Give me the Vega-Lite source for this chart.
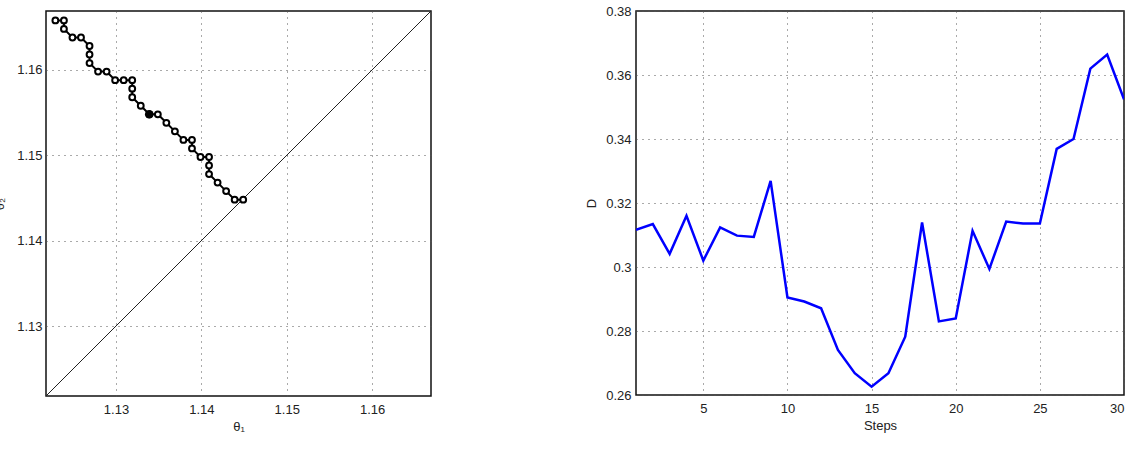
{
  "$schema": "https://vega.github.io/schema/vega-lite/v6.json",
  "padding": {"left": -8, "top": 4, "right": 0, "bottom": 0},
  "background": "white",
  "bounds": "flush",
  "spacing": 205,
  "datasets": {
    "path": [
      {"i": 1, "t1": 1.1229, "t2": 1.1658},
      {"i": 2, "t1": 1.1239, "t2": 1.1658},
      {"i": 3, "t1": 1.1239, "t2": 1.1648},
      {"i": 4, "t1": 1.1249, "t2": 1.1638},
      {"i": 5, "t1": 1.1259, "t2": 1.1638},
      {"i": 6, "t1": 1.1269, "t2": 1.1628},
      {"i": 7, "t1": 1.1269, "t2": 1.1618},
      {"i": 8, "t1": 1.1269, "t2": 1.1608},
      {"i": 9, "t1": 1.1279, "t2": 1.1598},
      {"i": 10, "t1": 1.1289, "t2": 1.1598},
      {"i": 11, "t1": 1.1299, "t2": 1.1588},
      {"i": 12, "t1": 1.1309, "t2": 1.1588},
      {"i": 13, "t1": 1.1319, "t2": 1.1588},
      {"i": 14, "t1": 1.1319, "t2": 1.1578},
      {"i": 15, "t1": 1.1319, "t2": 1.1568},
      {"i": 16, "t1": 1.1329, "t2": 1.1558},
      {"i": 17, "t1": 1.1339, "t2": 1.1548},
      {"i": 18, "t1": 1.1349, "t2": 1.1548},
      {"i": 19, "t1": 1.1359, "t2": 1.1538},
      {"i": 20, "t1": 1.1369, "t2": 1.1528},
      {"i": 21, "t1": 1.1379, "t2": 1.1518},
      {"i": 22, "t1": 1.1389, "t2": 1.1518},
      {"i": 23, "t1": 1.1389, "t2": 1.1508},
      {"i": 24, "t1": 1.1399, "t2": 1.1498},
      {"i": 25, "t1": 1.1409, "t2": 1.1498},
      {"i": 26, "t1": 1.1409, "t2": 1.1488},
      {"i": 27, "t1": 1.1409, "t2": 1.1478},
      {"i": 28, "t1": 1.1419, "t2": 1.1468},
      {"i": 29, "t1": 1.1429, "t2": 1.1458},
      {"i": 30, "t1": 1.1439, "t2": 1.1448},
      {"i": 31, "t1": 1.1449, "t2": 1.1448}
    ],
    "current": [{"t1": 1.1339, "t2": 1.1548}],
    "diag": [
      {"t1": 1.1218, "t2": 1.1218},
      {"t1": 1.1669, "t2": 1.1669}
    ],
    "steps": [
      {"step": 1, "D": 0.3116},
      {"step": 2, "D": 0.3134},
      {"step": 3, "D": 0.3041},
      {"step": 4, "D": 0.316},
      {"step": 5, "D": 0.302},
      {"step": 6, "D": 0.3124},
      {"step": 7, "D": 0.3098},
      {"step": 8, "D": 0.3094},
      {"step": 9, "D": 0.3269},
      {"step": 10, "D": 0.2905},
      {"step": 11, "D": 0.2892},
      {"step": 12, "D": 0.2871},
      {"step": 13, "D": 0.2741},
      {"step": 14, "D": 0.2668},
      {"step": 15, "D": 0.2626},
      {"step": 16, "D": 0.2668},
      {"step": 17, "D": 0.2782},
      {"step": 18, "D": 0.3139},
      {"step": 19, "D": 0.283},
      {"step": 20, "D": 0.2839},
      {"step": 21, "D": 0.3113},
      {"step": 22, "D": 0.2994},
      {"step": 23, "D": 0.3142},
      {"step": 24, "D": 0.3136},
      {"step": 25, "D": 0.3136},
      {"step": 26, "D": 0.3369},
      {"step": 27, "D": 0.34},
      {"step": 28, "D": 0.362},
      {"step": 29, "D": 0.3664},
      {"step": 30, "D": 0.3524}
    ]
  },
  "hconcat": [
    {
      "width": 385,
      "height": 385,
      "encoding": {
        "x": {
          "field": "t1", "type": "quantitative",
          "scale": {"domain": [1.1218, 1.1669], "nice": false, "zero": false},
          "axis": {"values": [1.13, 1.14, 1.15, 1.16], "format": ".2f", "title": "θ₁", "labelPadding": 7, "titlePadding": 4}
        },
        "y": {
          "field": "t2", "type": "quantitative",
          "scale": {"domain": [1.1218, 1.1669], "nice": false, "zero": false},
          "axis": {"values": [1.13, 1.14, 1.15, 1.16], "format": ".2f", "title": "θ₂", "labelPadding": 4, "titlePadding": 10}
        }
      },
      "layer": [
        {
          "data": {"name": "diag"},
          "mark": {"type": "line", "color": "#222", "strokeWidth": 1, "clip": true}
        },
        {
          "data": {"name": "path"},
          "mark": {"type": "line", "color": "#000", "strokeWidth": 2},
          "encoding": {"order": {"field": "i", "type": "quantitative"}}
        },
        {
          "data": {"name": "path"},
          "mark": {"type": "point", "shape": "circle", "filled": false, "fill": "white", "fillOpacity": 1, "stroke": "#000", "strokeWidth": 2, "size": 34, "opacity": 1}
        },
        {
          "data": {"name": "current"},
          "mark": {"type": "point", "shape": "circle", "filled": true, "color": "#000", "size": 75, "opacity": 1}
        }
      ]
    },
    {
      "width": 488,
      "height": 384,
      "data": {"name": "steps"},
      "mark": {"type": "line", "color": "#0000ff", "strokeWidth": 2.5, "clip": true},
      "encoding": {
        "x": {
          "field": "step", "type": "quantitative",
          "scale": {"domain": [1, 30], "nice": false, "zero": false},
          "axis": {"values": [5, 10, 15, 20, 25, 30], "title": "Steps", "labelPadding": 7, "titlePadding": 4}
        },
        "y": {
          "field": "D", "type": "quantitative",
          "scale": {"domain": [0.26, 0.38], "nice": false, "zero": false},
          "axis": {"values": [0.26, 0.28, 0.3, 0.32, 0.34, 0.36, 0.38], "format": ".2~f", "title": "D", "labelPadding": 5, "titlePadding": 7}
        }
      }
    }
  ],
  "config": {
    "view": {"stroke": "#111", "strokeWidth": 1.5},
    "axis": {
      "domain": false,
      "ticks": false,
      "grid": true,
      "gridColor": "#555",
      "gridDash": [1, 5],
      "gridWidth": 1,
      "gridOpacity": 1,
      "labelFont": "Liberation Sans",
      "labelFontSize": 13,
      "labelColor": "#222",
      "titleFont": "Liberation Sans",
      "titleFontSize": 13,
      "titleFontWeight": "normal",
      "titleColor": "#222",
      "labelOverlap": false
    }
  }
}
